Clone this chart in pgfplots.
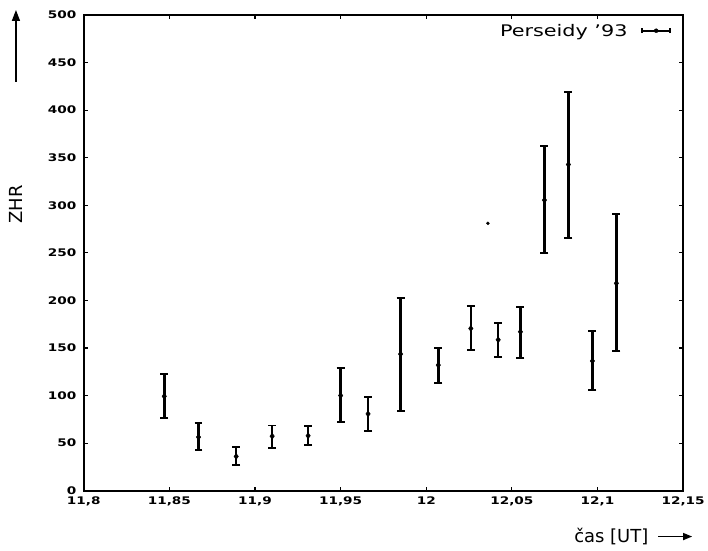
\documentclass[border=0pt]{standalone}
\usepackage{fontspec}
\setmainfont{DejaVu Sans}
\newfontfamily\tickfont[FakeStretch=1.3]{DejaVu Sans Bold}
\newfontfamily\legfont[FakeStretch=1.3]{DejaVu Sans}
\usepackage{pgfplots}
\usepackage{pgfplotstable}
\pgfplotsset{compat=1.18}
\usetikzlibrary{calc,arrows.meta}

% x, ZHR, error plus, error minus
\pgfplotstableread{
x       y      ep    em
11.847  99.2   23.1  23.0
11.867  56.3   14.7  13.3
11.889  36.0    9.8   8.7
11.910  57.3   11.2  12.3
11.931  57.7   10.1  10.2
11.950  100.0  28.8  28.0
11.966  80.7   17.5  17.5
11.985  143.6  59.4  60.1
12.007  132.0  18.2  19.1
12.026  170.5  23.8  22.7
12.042  158.6  17.8  17.8
12.055  167.0  26.2  27.6
12.069  305.4  56.6  55.2
12.083  342.8  75.8  76.9
12.097  136.3  31.1  30.8
12.111  218.0  72.4  71.2
}\zhrdata

\begin{document}
\begin{tikzpicture}
\begin{axis}[
    name=ax,
    scale only axis,
    width=601pt, height=477pt,
    xmin=11.8, xmax=12.15,
    ymin=0, ymax=500,
    xtick={11.8,11.85,11.9,11.95,12,12.05,12.1,12.15},
    ytick={0,50,100,150,200,250,300,350,400,450,500},
    /pgf/number format/use comma,
    /pgf/number format/assume math mode=true,
    ticklabel style={font=\tickfont\fontsize{10.5}{12}\selectfont},
    xticklabel style={yshift=-3pt},
    yticklabel style={xshift=-4pt},
    tick align=inside,
    major tick length=4pt,
    tick style={line width=1.2pt, black},
    axis line style={line width=2pt},
    legend plot pos=right,
    legend style={at={(axis description cs:0.985,0.99)}, anchor=north east,
        draw=none, fill=none, font=\legfont\fontsize{16}{18}\selectfont,
        column sep=12pt},
]
\addplot[black, only marks, mark=diamond*, mark size=3pt,
    error bars/.cd, y dir=both, y explicit,
    error bar style={line width=2.6pt},
    error mark options={rotate=90, mark size=4pt, line width=2pt},
    /pgfplots/legend image code/.code={
        \draw[line width=1.6pt] (0pt,0pt) -- (28pt,0pt);
        \draw[line width=1.6pt] (0pt,-2.5pt) -- (0pt,2.5pt);
        \draw[line width=1.6pt] (28pt,-2.5pt) -- (28pt,2.5pt);
        \fill (14pt,0pt) circle (2pt);
    }]
    table[x=x, y=y, y error plus=ep, y error minus=em] {\zhrdata};
\addlegendentry{Perseidy ’93}
\addplot[black, only marks, mark=*, mark size=1.5pt, forget plot]
    coordinates {(12.036,281)};
\end{axis}
\node[font=\fontsize{18}{20}\selectfont] at ($(ax.south west)+(529pt,-46pt)$) {čas [UT]};
\draw[line width=1.5pt, -{Triangle[length=9pt,width=7pt]}]
    ($(ax.south west)+(576pt,-46pt)$) -- ($(ax.south west)+(610pt,-46pt)$);
\node[font=\fontsize{18}{20}\selectfont, rotate=90] at ($(ax.south west)+(-68pt,287pt)$) {ZHR};
\draw[line width=1.5pt, -{Triangle[length=11pt,width=8pt]}]
    ($(ax.south west)+(-68pt,410pt)$) -- ($(ax.south west)+(-68pt,482pt)$);
\useasboundingbox ($(ax.south west)+(-84pt,-60pt)$) rectangle ($(ax.south west)+(624pt,492pt)$);
\end{tikzpicture}
\end{document}
